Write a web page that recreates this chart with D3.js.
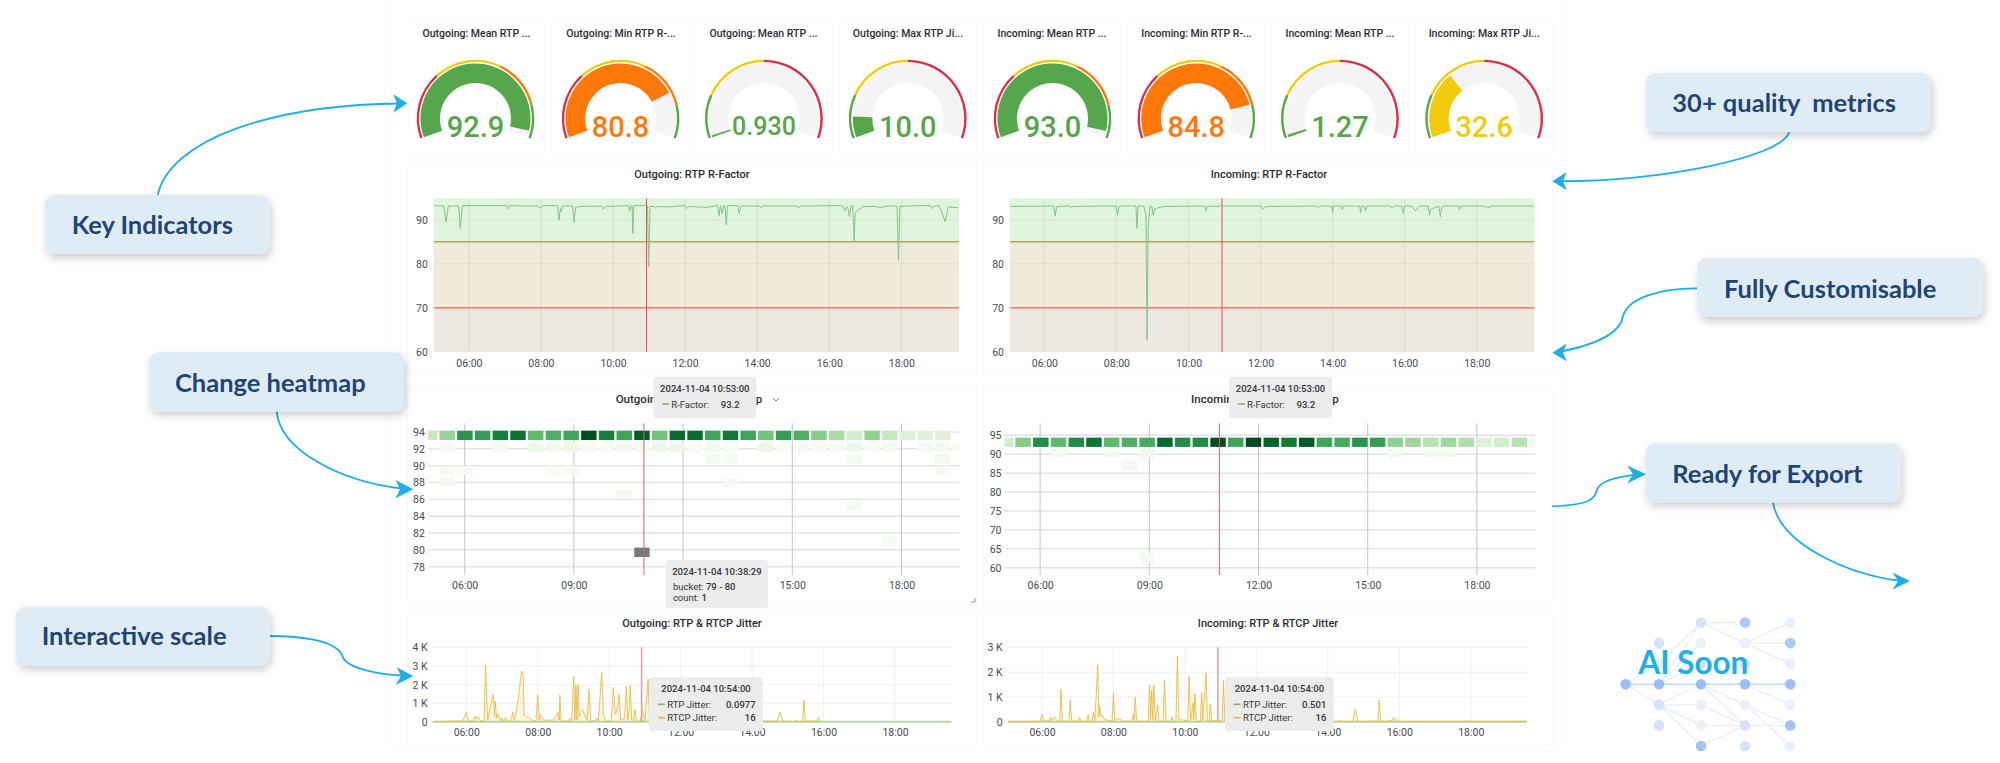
<!DOCTYPE html>
<html><head><meta charset="utf-8">
<script src="https://cdn.jsdelivr.net/npm/d3@7/dist/d3.min.js"></script>
<style>
html,body{margin:0;padding:0;background:#fff;overflow:hidden}
svg{display:block}
text{font-family:Roboto,sans-serif}
.ann{font-family:Lato,sans-serif;font-weight:700;white-space:pre}
</style></head><body><svg id="c" width="2000" height="763"></svg>
<script>
// ---------- DATA ----------
const gaugeTitles=["Outgoing: Mean RTP ...","Outgoing: Min RTP R-...","Outgoing: Mean RTP ...","Outgoing: Max RTP Ji...","Incoming: Mean RTP ...","Incoming: Min RTP R-...","Incoming: Mean RTP ...","Incoming: Max RTP Ji..."];
const gaugeValues=[92.9,80.8,0.93,10.0,93.0,84.8,1.27,32.6];
const gaugeLabels=["92.9","80.8","0.930","10.0","93.0","84.8","1.27","32.6"];
const gaugeMins=[30,30,0,0,30,30,0,0];
const gaugeMaxs=[95,95,100,100,95,95,100,100];
const gaugeSteps=[[50,70,85],[50,70,85],[20,50],[20,50],[50,70,85],[50,70,85],[20,50],[20,50]];
const rfStepColors=["#e02f44","#f2cc0c","#ff780a","#56a64b"];
const jitStepColors=["#56a64b","#f2cc0c","#e02f44"];

const hours2=[6,8,10,12,14,16,18];
const hours3=[6,9,12,15,18];
const rfTicks=[60,70,80,90];
const outHeatTicks=[78,80,82,84,86,88,90,92,94];
const inHeatTicks=[60,65,70,75,80,85,90,95];
const outJitTicks=[0,1,2,3,4];
const inJitTicks=[0,1,2,3];

const outRFactor=[[5.03,93.2],[5.3,93.1],[5.37,89.5],[5.43,93.1],[5.72,93.1],[5.76,88],[5.82,93.2],[6.5,93.2],[7.06,93.2],[7.1,92.4],[7.14,93.2],[7.5,93.1],[7.92,93.1],[7.97,92.6],[8.02,92.9],[8.06,93.2],[8.46,93.2],[8.5,89.9],[8.54,92.5],[8.56,91.8],[8.6,93.1],[8.88,93.1],[8.92,89.4],[8.96,92.8],[9.1,93],[9.68,93.1],[9.73,92.4],[9.78,93],[10.42,93.2],[10.46,92],[10.5,93.2],[10.53,93.2],[10.55,86.9],[10.58,93.2],[10.85,93.2],[10.9,93.3],[10.96,93.1],[10.99,79.3],[11.03,93],[11.15,93],[11.19,92.5],[11.23,93],[11.6,92.9],[11.8,93.1],[12,93.2],[12.04,92.5],[12.1,93],[12.6,92.8],[12.9,93.2],[12.94,90.8],[12.98,93.2],[13.03,91.3],[13.07,93.2],[13.11,93.1],[13.14,88.8],[13.18,93.2],[13.46,93.2],[13.5,91.4],[13.55,93.1],[14.06,93.1],[14.1,92.6],[14.14,93.1],[15.1,93.1],[15.15,92.6],[15.2,93.1],[16.3,93.2],[16.38,93],[16.43,92],[16.48,93],[16.52,92.5],[16.56,90.7],[16.6,93.2],[16.65,93.2],[16.69,85.2],[16.72,91.5],[16.77,92],[16.95,93],[17.3,93],[17.4,92.7],[17.6,93.1],[17.88,93.1],[17.92,80.8],[17.96,93],[18.5,93.2],[18.82,93.2],[18.86,92.5],[18.9,93],[19.05,93.2],[19.22,89.5],[19.3,92.9],[19.58,92.7]];
const inRFactor=[[5.05,93],[6.26,93.1],[6.3,90.8],[6.34,93],[6.7,93.1],[6.74,92.8],[6.78,93],[7.5,93.1],[7.98,93.1],[8.03,91],[8.07,93.1],[8.5,93.1],[8.54,93.1],[8.57,88],[8.6,93.1],[8.76,93.1],[8.82,91],[8.85,62.6],[8.88,88],[8.93,93],[8.98,93.1],[9.02,91],[9.07,92.5],[9.12,92.6],[9.3,93],[10.44,93.1],[10.48,92],[10.52,93.1],[10.85,93],[10.9,93.5],[10.95,93.1],[12,93.1],[12.06,92.4],[12.14,93],[13.56,93.1],[13.6,92.7],[13.64,93.1],[13.97,93.1],[14,91.6],[14.03,93.1],[14.24,93.1],[14.27,92.3],[14.3,93.1],[14.75,93.1],[14.78,91.6],[14.81,93.1],[14.88,93.1],[14.91,92],[14.96,93.1],[15.62,93.1],[15.65,92.6],[15.7,93.1],[15.92,93.1],[15.96,91.4],[16,93.1],[16.2,93.1],[16.29,92],[16.42,93.1],[16.65,93.1],[16.69,91],[16.72,92.3],[16.95,93.1],[16.99,90.7],[17.03,92.8],[17.08,93.1],[17.49,93.1],[17.52,92.3],[17.55,93.1],[18.2,93.1],[18.3,92.7],[18.42,93.1],[19.6,93.1]];
const crossHour=10.93;
const bands=[[85,94.86,"#e0f5de"],[70,85,"#f0ead8"],[60,70,"#eee8e2"]];
const rfLines=[[85,"#a9a958"],[70,"#e8806c"]];

// heatmap: top row counts, level 0..1, index -1 is the clipped bin
const outTopLevels=[.25,.4,.72,.68,.8,.85,.55,.6,.65,.97,.8,.65,.93,.5,.87,.87,.65,.82,.65,.5,.68,.6,.45,.35,.2,.42,.25,.15,.15,.15];
const inTopLevels=[.22,.45,.75,.55,.75,.85,.55,.6,.62,.88,.75,.75,.97,.65,.98,.9,.82,.93,.65,.62,.72,.68,.42,.38,.3,.38,.33,.15,.2,.3,.04];
// [bin, bucket top value, level]
const outLowCells=[[0,92.77,.02],[3,92.77,.02],[5,92.77,.07],[6,92.77,.03],[7,92.77,.07],[8,92.77,.01],[9,92.77,.01],[10,92.77,.03],[11,92.77,.01],[12,92.77,.07],[13,92.77,.07],[14,92.77,.01],[15,92.77,.03],[16,92.77,.01],[18,92.77,.07],[19,92.77,.01],[20,92.77,.02],[21,92.77,.01],[22,92.77,.02],[23,92.77,.07],[24,92.77,.01],[25,92.77,.03],[27,92.77,.02],[28,92.77,.03],[29,92.77,.01],
[15,91.38,.03],[16,91.38,.02],[23,91.38,.03],[28,91.38,.03],
[0,90,.03],[1,90,.02],[6,90,.02],[7,90,.02],[28,90,.03],
[0,88.6,.03],[16,88.6,.02],[10,87.2,.03],[23,85.8,.03],[25,81.66,.02]];
const outMarked=[[11,80.27]];
const inLowCells=[[2,91.32,.02],[5,91.32,.02],[7,91.32,.05],[21,91.32,.02],[23,91.32,.02],[24,91.32,.02],[6,88.26,.03],[7,63.78,.03]];

const outRtcp=[[5.06,.02],[5.9,.06],[6,.53],[6.06,.05],[6.2,.05],[6.24,.32],[6.28,.15],[6.32,.3],[6.38,.1],[6.46,.03],[6.5,.03],[6.54,3.05],[6.6,.1],[6.72,1.2],[6.76,1.48],[6.79,.3],[6.81,1.12],[6.85,.2],[6.9,.45],[6.96,.05],[7,.2],[7.05,.05],[7.1,.25],[7.15,.05],[7.25,.05],[7.3,.55],[7.35,.05],[7.45,1.2],[7.55,2.73],[7.59,2.6],[7.62,.35],[7.72,.25],[7.9,.05],[7.95,.05],[8,1.45],[8.04,.1],[8.07,.4],[8.15,.1],[8.45,.1],[8.57,.5],[8.6,.1],[8.62,1.45],[8.66,.05],[8.85,.05],[8.9,.2],[8.95,.05],[9.01,2.46],[9.04,.1],[9.07,1.98],[9.1,.1],[9.13,2],[9.16,.3],[9.25,.68],[9.38,.1],[9.44,1.75],[9.48,.1],[9.6,.05],[9.65,.2],[9.7,.05],[9.79,2.66],[9.84,.4],[9.9,.05],[10,.05],[10.06,.1],[10.12,1.84],[10.17,.4],[10.23,.77],[10.28,1.5],[10.32,.1],[10.43,.2],[10.48,1.9],[10.52,.1],[10.55,.4],[10.59,1.98],[10.63,.1],[10.68,.1],[10.72,.7],[10.76,.05],[10.87,.05],[10.93,.65],[11,.05],[11.09,2.3],[11.13,.05],[11.3,.2],[11.5,.05],[12,.15],[12.2,.05],[13.2,.2],[13.4,.05],[14.2,.15],[14.3,.05],[14.7,.05],[14.78,.53],[14.86,.05],[15.2,.02],[15.25,.1],[15.3,.02],[15.41,.02],[15.45,1.18],[15.49,.05],[15.7,.05],[15.75,.08],[15.8,.02],[15.85,.25],[15.88,.25],[15.92,.01]];
const inRtcp=[[5.05,.03],[5.95,.03],[6,.32],[6.05,.05],[6.2,.05],[6.24,.19],[6.28,.05],[6.34,.21],[6.44,.03],[6.5,.03],[6.53,1.31],[6.57,.05],[6.75,.03],[6.79,.88],[6.83,.05],[7,.03],[7.05,.19],[7.09,.03],[7.25,.03],[7.29,.28],[7.33,.03],[7.4,.03],[7.44,.41],[7.48,.05],[7.56,2.29],[7.59,.2],[7.61,.68],[7.65,.25],[7.68,.28],[7.75,.1],[7.96,.03],[8,1.15],[8.04,.05],[8.1,.15],[8.3,.03],[8.52,.03],[8.56,.32],[8.58,.1],[8.61,.99],[8.65,.03],[8.97,.03],[9.01,1.49],[9.04,.1],[9.07,1.26],[9.1,.1],[9.13,1.49],[9.17,.05],[9.24,.68],[9.27,.03],[9.39,.03],[9.43,1.69],[9.47,.03],[9.6,.03],[9.63,.21],[9.68,.03],[9.75,.03],[9.79,2.66],[9.83,.1],[10.08,.05],[10.12,1.85],[10.16,.05],[10.23,.78],[10.25,.1],[10.28,1.15],[10.32,.03],[10.43,.03],[10.47,1.19],[10.5,.05],[10.59,1.98],[10.63,.05],[10.68,.03],[10.71,.71],[10.75,.03],[10.9,.08],[11.04,.03],[11.08,1.66],[11.12,.03],[11.4,.15],[11.6,.03],[14.3,.03],[14.35,.06],[14.4,.03],[14.7,.03],[14.77,.52],[14.84,.03],[15.22,.03],[15.26,.06],[15.3,.03],[15.4,.03],[15.44,.88],[15.48,.03],[15.65,.03],[15.7,.07],[15.78,.03],[15.84,.17],[15.88,.17],[15.92,.03],[19.57,.03]];
const outRtp=[[5.06,.01],[19.58,.01]];
const inRtp=[[5.05,.01],[19.57,.01]];

const boxes=[
 {t:"Key Indicators",x:45,y:195,w:224.3,tx:71.7,by:234},
 {t:"Change heatmap",x:149.3,y:352.3,w:254.7,tx:175,by:391.7},
 {t:"Interactive scale",x:16,y:606.7,w:253.3,tx:41.7,by:645},
 {t:"30+ quality  metrics",x:1646,y:73.1,w:285,tx:1672.3,by:112.3},
 {t:"Fully Customisable",x:1697.3,y:258,w:285,tx:1724,by:297.6},
 {t:"Ready for Export",x:1646,y:443.3,w:254.7,tx:1672.3,by:482.9}];
const arrows=[
 {d:"M157.7,195C170,140 270,105 400,103.5",h:"M407.3,103.3L393.3,94.3L397,103.3L393.3,112.7Z"},
 {d:"M276.7,411.3C280,450 340,482 405,489",h:"M413.3,489.3L395.7,480L400,489.3L395.7,498.3Z"},
 {d:"M270,636C300,636 335,640 342,655C345,668 375,674 405,676",h:"M413.3,676L396.7,667.3L401,676L395.7,685Z"},
 {d:"M1789.3,132.3C1780,158 1660,181 1560,181.2",h:"M1552.3,181.2L1566.7,171.9L1563,181.2L1566.7,190.2Z"},
 {d:"M1697.3,288.3C1660,288 1628,298 1623,316C1620,336 1590,346 1558,352",h:"M1552.3,352.7L1566.7,343.4L1563,352.5L1566.7,361.3Z"},
 {d:"M1552,506.3C1590,505 1595,499 1597,490C1600,480 1620,476 1640,474.3",h:"M1646,474.3L1627.3,465.6L1633,474.3L1627.3,483.6Z"},
 {d:"M1773,502.5C1780,545 1850,575 1902,581",h:"M1910,581L1892.7,572.4L1898,581L1892.7,589.6Z"}];

// AI network: [column, row, colour]; rows count from the top of the picture
const netNodes=[[0,3,"#9dbdf9"],[1,1,"#d4e2fb"],[1,2,"#eaf1fc"],[1,3,"#9dbdf9"],[1,4,"#d4e2fb"],[1,5,"#d4e2fb"],
[2,0,"#d4e2fb"],[2,1,"#e8f0fb"],[2,2,"#d4e2fb"],[2,3,"#9dbdf9"],[2,4,"#e8f0fb"],[2,5,"#e8f0fb"],[2,6,"#a5c2f8"],
[3,0,"#a8ccf8"],[3,1,"#e8f0fb"],[3,2,"#d4e2fb"],[3,3,"#9dbdf9"],[3,4,"#e8f0fb"],[3,5,"#d4e2fb"],[3,6,"#d4e2fb"],
[4,0,"#e8f0fb"],[4,1,"#a8ccf8"],[4,2,"#e8f0fb"],[4,3,"#9dbdf9"],[4,4,"#e8f0fb"],[4,5,"#a5c2f8"],[4,6,"#e8f0fb"]];
const netEdges=[[0,3,1,2],[0,3,1,3],[0,3,1,4],[1,3,2,0],[1,3,2,1],[1,3,2,2],[1,3,2,3],[1,2,2,0],[1,4,2,3],[1,4,2,4],[1,4,2,5],[1,4,2,6],
[2,0,3,0],[2,0,3,1],[2,3,3,3],[2,3,3,4],[2,3,3,5],[2,4,3,5],[2,5,3,5],[2,6,3,5],[3,1,4,0],[3,1,4,1],[3,1,4,2],[3,3,4,3],[3,3,4,4],[3,4,4,5],[3,4,4,6],[3,5,4,5]];

// ---------- DRAW ----------
const svg=d3.select("#c");
const defs=svg.append("defs");
const sh=defs.append("filter").attr("id","sh").attr("x","-20%").attr("y","-30%").attr("width","140%").attr("height","170%");
sh.append("feDropShadow").attr("dx",2).attr("dy",4).attr("stdDeviation",4).attr("flood-color","#000").attr("flood-opacity",.2);
const ink="#464c54",titleInk="#2a2d33";
const rad=Math.PI/180;

svg.append("rect").attr("x",385).attr("y",-10).attr("width",1180).attr("height",762).attr("rx",22).attr("fill","#fff").attr("stroke","#fafafa");

function card(x,y,w,h){svg.append("rect").attr("x",x).attr("y",y).attr("width",w).attr("height",h).attr("rx",2).attr("fill","#fff").attr("stroke","#f9f9f9");}
function title(txt,cx,y){svg.append("text").attr("x",cx).attr("y",y).attr("text-anchor","middle").attr("dominant-baseline","central").attr("font-size",11).attr("font-weight",500).attr("fill",titleInk).text(txt);}
function axes(g,x,y,xt,yt,yh,xpad,ypad,yfmt){
 g.append("g").attr("transform",`translate(0,${yh})`).call(d3.axisBottom(x).tickValues(xt).tickSize(0).tickPadding(xpad).tickFormat(d=>String(d).padStart(2,"0")+":00"))
  .call(s=>{s.select(".domain").remove();s.selectAll("text").attr("font-size",10.5).attr("fill",ink).attr("font-family","Roboto,sans-serif");});
 g.append("g").attr("transform",`translate(${x.range()[0]},0)`).call(d3.axisLeft(y).tickValues(yt).tickSize(0).tickPadding(ypad).tickFormat(yfmt||(d=>d)))
  .call(s=>{s.select(".domain").remove();s.selectAll("text").attr("font-size",10.5).attr("fill",ink).attr("font-family","Roboto,sans-serif");});
}

// gauges
const gaugePanels=[[408,137],[552,138],[695,137],[839,138],[983,138],[1128,137],[1271,138],[1415.5,137.5]];
const gaugeCx=[475.5,620.6,764,907.8,1052.5,1196.3,1340,1484.2];
const gaugeCy=118.5;
gaugeValues.forEach((v,i)=>{
 const p=gaugePanels[i];card(p[0],20.7,p[1],134.6);
 svg.append("text").attr("x",p[0]+p[1]/2).attr("y",33.3).attr("text-anchor","middle").attr("dominant-baseline","central").attr("font-size",10.5).attr("font-weight",500).attr("fill",titleInk).text(gaugeTitles[i]);
 const a=d3.scaleLinear().domain([gaugeMins[i],gaugeMaxs[i]]).range([-110*rad,110*rad]);
 const g=svg.append("g").attr("transform",`translate(${gaugeCx[i]},${gaugeCy})`);
 const stepCols=gaugeSteps[i][2]?rfStepColors:jitStepColors;
 const edges=[gaugeMins[i],...gaugeSteps[i],gaugeMaxs[i]];
 const vc=stepCols[d3.bisectRight(gaugeSteps[i],v)];
 const main=d3.arc().innerRadius(35.5).outerRadius(55);
 g.append("path").attr("d",main({startAngle:a(gaugeMins[i]),endAngle:a(gaugeMaxs[i])})).attr("fill","#f4f4f4");
 g.append("path").attr("d",main({startAngle:a(gaugeMins[i]),endAngle:a(v)})).attr("fill",vc);
 const thr=d3.arc().innerRadius(56.4).outerRadius(58.8);
 stepCols.forEach((c,k)=>g.append("path").attr("d",thr({startAngle:a(edges[k]),endAngle:a(edges[k+1])})).attr("fill",c));
 const small=gaugeLabels[i].length>4;
 svg.append("text").attr("x",gaugeCx[i]).attr("y",small?135:137.3).attr("text-anchor","middle").attr("font-size",small?25:29).attr("font-weight",500).attr("fill",vc).text(gaugeLabels[i]);
});

// R-factor charts
function rfChart(cfg){
 card(cfg.cx,161.7,cfg.cw,213);
 title(cfg.title,cfg.tx,174);
 const x=d3.scaleLinear().domain(cfg.dom).range(cfg.rng);
 const y=d3.scaleLinear().domain([60,94.86]).range([351.7,198.3]);
 const g=svg.append("g");
 g.selectAll(".b").data(bands).join("rect").attr("x",x.range()[0]).attr("width",x.range()[1]-x.range()[0]).attr("y",d=>y(d[1])).attr("height",d=>y(d[0])-y(d[1])).attr("fill",d=>d[2]);
 g.selectAll(".gv").data(hours2).join("line").attr("x1",x).attr("x2",x).attr("y1",198.3).attr("y2",351.7).attr("stroke","#000").attr("stroke-opacity",.07);
 g.selectAll(".gh").data(rfTicks).join("line").attr("x1",x.range()[0]).attr("x2",x.range()[1]).attr("y1",y).attr("y2",y).attr("stroke","#000").attr("stroke-opacity",.05);
 g.selectAll(".l").data(rfLines).join("line").attr("x1",x.range()[0]).attr("x2",x.range()[1]).attr("y1",d=>y(d[0])).attr("y2",d=>y(d[0])).attr("stroke",d=>d[1]).attr("stroke-width",1.5);
 g.append("path").attr("d",d3.line().x(d=>x(d[0])).y(d=>y(d[1]))(cfg.data)).attr("fill","none").attr("stroke","#86c386").attr("stroke-width",1);
 g.append("line").attr("x1",x(crossHour)).attr("x2",x(crossHour)).attr("y1",198.3).attr("y2",351.7).attr("stroke","#e2504f").attr("stroke-width",1);
 axes(g,x,y,hours2,rfTicks,351.7,7.8,cfg.ypad);
}
rfChart({cx:407.5,cw:569.5,title:"Outgoing: RTP R-Factor",tx:692,dom:[5.03,19.6],rng:[433.9,959],data:outRFactor,ypad:6});
rfChart({cx:983,cw:569.8,title:"Incoming: RTP R-Factor",tx:1269,dom:[5.046,19.6],rng:[1010,1534.4],data:inRFactor,ypad:6});

// heatmaps
function heatChart(cfg){
 card(cfg.cx,386.7,cfg.cw,218.3);
 const x=d3.scaleLinear().domain(cfg.dom).range(cfg.rng);
 const y=d3.scaleLinear().domain(cfg.ydom).range(cfg.yrng);
 const g=svg.append("g");
 const id="clip"+cfg.id;
 defs.append("clipPath").attr("id",id).append("rect").attr("x",x.range()[0]).attr("y",420).attr("width",x.range()[1]-x.range()[0]).attr("height",160);
 g.selectAll(".gh").data(cfg.yt).join("line").attr("x1",x.range()[0]).attr("x2",x.range()[1]).attr("y1",y).attr("y2",y).attr("stroke","#e3e3e3").attr("stroke-width",1.5);
 g.selectAll(".gv").data(hours3).join("line").attr("x1",x).attr("x2",x).attr("y1",423.3).attr("y2",575).attr("stroke","#c4c4c4");
 const cells=g.append("g").attr("clip-path",`url(#${id})`);
 const binX=i=>x(cfg.bin0+i*cfg.step);
 const w=x(cfg.step)-x(0)-2.3;
 const col=t=>d3.interpolateGreens(t);
 const h=y(cfg.top-cfg.pitch)-y(cfg.top)-2.3;
 cells.selectAll(".t").data(cfg.levels).join("rect").attr("x",(d,i)=>binX(i-1)).attr("y",y(cfg.top)).attr("width",w).attr("height",h).attr("fill",col);
 cells.selectAll(".o").data(cfg.low).join("rect").attr("x",d=>binX(d[0])).attr("y",d=>y(d[1])).attr("width",w).attr("height",h).attr("fill",d=>col(d[2]));
 cells.selectAll(".m").data(cfg.marked||[]).join("rect").attr("x",d=>binX(d[0])).attr("y",d=>y(d[1])).attr("width",w).attr("height",h).attr("fill","#7a7a7a");
 g.append("line").attr("x1",cfg.crossX).attr("x2",cfg.crossX).attr("y1",423.3).attr("y2",575).attr("stroke","#d9607e").attr("stroke-width",1);
 axes(g,x,y,hours3,cfg.yt,575,6.9,cfg.ypad);
}
heatChart({id:"a",cx:407.5,cw:569.5,dom:[5,19.6],rng:[428.3,959.7],ydom:[78,94],yrng:[566.7,432],yt:outHeatTicks,bin0:5.308,step:.4864,top:94.16,pitch:1.389,levels:outTopLevels,low:outLowCells,marked:outMarked,crossX:643.9,ypad:3.5});
heatChart({id:"b",cx:983,cw:569.8,dom:[5.02,19.61],rng:[1004.5,1535.5],ydom:[60,95],yrng:[567.7,435.3],yt:inHeatTicks,bin0:5.319,step:.487,top:94.38,pitch:3.06,levels:inTopLevels,low:inLowCells,crossX:1219.4,ypad:3});
svg.append("text").attr("x",615.7).attr("y",399).attr("dominant-baseline","central").attr("font-size",11.5).attr("font-weight",500).attr("fill",titleInk).text("Outgoing: R-Factor Heatmap");
svg.append("path").attr("d","M773,398L776,401L779,398").attr("fill","none").attr("stroke","#6b6f76").attr("stroke-width",.9);
svg.append("text").attr("x",1191).attr("y",399).attr("dominant-baseline","central").attr("font-size",11.5).attr("font-weight",500).attr("fill",titleInk).text("Incoming: R-Factor Heatmap");
svg.append("path").attr("d","M971,602L975,602L975,598").attr("fill","none").attr("stroke","#9a9a9a");

// jitter
function jitChart(cfg){
 card(cfg.cx,611.7,cfg.cw,133.3);
 title(cfg.title,cfg.tx,623);
 const x=d3.scaleLinear().domain(cfg.dom).range(cfg.rng);
 const y=d3.scaleLinear().domain([0,cfg.yt[cfg.yt.length-1]]).range([722,647.3]);
 const g=svg.append("g");
 g.selectAll(".gv").data(hours2).join("line").attr("x1",x).attr("x2",x).attr("y1",647.3).attr("y2",722).attr("stroke","#efefef");
 g.selectAll(".gh").data(cfg.yt).join("line").attr("x1",x.range()[0]).attr("x2",x.range()[1]).attr("y1",y).attr("y2",y).attr("stroke","#efefef");
 g.append("path").attr("d",d3.line().x(d=>x(d[0])).y(d=>y(d[1]))(cfg.rtp)).attr("fill","none").attr("stroke","#b8d9a8").attr("stroke-width",2);
 g.append("path").attr("d",d3.area().x(d=>x(d[0])).y0(y(0)).y1(d=>y(d[1]))(cfg.rtcp)).attr("fill","#eab839").attr("fill-opacity",.12);
 g.append("path").attr("d",d3.line().x(d=>x(d[0])).y(d=>y(d[1]))(cfg.rtcp)).attr("fill","none").attr("stroke","#eab839").attr("stroke-width",1).attr("stroke-opacity",.85);
 g.append("line").attr("x1",cfg.crossX).attr("x2",cfg.crossX).attr("y1",647.3).attr("y2",722).attr("stroke","#e89a9a").attr("stroke-width",1.5);
 axes(g,x,y,hours2,cfg.yt,722,6.5,cfg.ypad,d=>d===0?"0":d+" K");
}
jitChart({cx:407.5,cw:569.5,title:"Outgoing: RTP & RTCP Jitter",tx:692,dom:[5.06,19.58],rng:[432.7,951.4],rtcp:outRtcp,rtp:outRtp,yt:outJitTicks,crossX:641.6,ypad:5});
jitChart({cx:983,cw:569.8,title:"Incoming: RTP & RTCP Jitter",tx:1268,dom:[5.054,19.57],rng:[1008.2,1526.8],rtcp:inRtcp,rtp:inRtp,yt:inJitTicks,crossX:1217.9,ypad:5.5});

// tooltips
function tip(x,y,w,h){svg.append("rect").attr("x",x).attr("y",y).attr("width",w).attr("height",h).attr("rx",3.5).attr("fill","#ececec");}
function tt(txt,x,y,o={}){svg.append("text").attr("x",x).attr("y",y).attr("dominant-baseline","central").attr("text-anchor",o.a||"start").attr("font-size",o.s||9.5).attr("font-weight",o.w||400).attr("fill","#33363b").text(txt);}
function rTip(x0){
 tip(x0,376.7,103,41.6);
 tt("2024-11-04 10:53:00",x0+51.5,388.7,{a:"middle",w:500});
 svg.append("rect").attr("x",x0+8.8).attr("y",403.3).attr("width",7.2).attr("height",1.5).attr("fill","#7eb26d");
 tt("R-Factor:",x0+18,404);
 tt("93.2",x0+67.5,404,{w:500});
}
rTip(653.3);rTip(1229);
tip(665.7,560,102.3,48);
tt("2024-11-04 10:38:29",716.9,571.7,{a:"middle",w:500});
function pair(a,b,x,y){const t=svg.append("text").attr("x",x).attr("y",y).attr("dominant-baseline","central").attr("font-size",9.5).attr("fill","#33363b");t.append("tspan").text(a+" ");t.append("tspan").attr("font-weight",500).text(b);}
pair("bucket:","79 - 80",672.9,586);
pair("count:","1",672.9,596.7);
function jTip(x0,w,sx,lx,vr,val){
 tip(x0,677.3,w,53.7);
 tt("2024-11-04 10:54:00",x0+w/2,688.7,{a:"middle",w:500});
 [["RTP Jitter:",val,"#7eb26d",704.3],["RTCP Jitter:","16","#eab839",717.7]].forEach(r=>{
  svg.append("rect").attr("x",sx).attr("y",r[3]-.8).attr("width",7).attr("height",1.6).attr("fill",r[2]);
  tt(r[0],lx,r[3]);tt(r[1],vr,r[3],{a:"end",w:500});
 });
}
jTip(649,114,657.8,667.2,755.6,"0.0977");
jTip(1225,108.8,1233.5,1243,1326.3,"0.501");

// AI network
const nxVal=[1625.7,1659,1701,1745,1790.3];
const ny=d3.scaleLinear().domain([0,6]).range([622.5,746]);
const net=svg.append("g");
net.selectAll("line").data(netEdges).join("line").attr("x1",d=>nxVal[d[0]]).attr("y1",d=>ny(d[1])).attr("x2",d=>nxVal[d[2]]).attr("y2",d=>ny(d[3])).attr("stroke",d=>d[1]===3&&d[3]===3?"#c3d7fb":"#e6eefb").attr("stroke-width",1.3);
net.selectAll("circle").data(netNodes).join("circle").attr("cx",d=>nxVal[d[0]]).attr("cy",d=>ny(d[1])).attr("r",5.3).attr("fill",d=>d[2]);
svg.append("text").attr("class","ann").attr("x",1638.3).attr("y",674).attr("font-size",31.5).attr("fill","#1eaee8").text("AI Soon");

// annotations
arrows.forEach(a=>{
 svg.append("path").attr("d",a.d).attr("fill","none").attr("stroke","#1eaee8").attr("stroke-width",1.8);
 svg.append("path").attr("d",a.h).attr("fill","#1eaee8");
});
boxes.forEach(b=>{
 svg.append("rect").attr("x",b.x).attr("y",b.y).attr("width",b.w).attr("height",59).attr("rx",9).attr("fill","#dfecf6").attr("filter","url(#sh)");
 svg.append("text").attr("class","ann").attr("x",b.tx).attr("y",b.by).attr("font-size",25.5).attr("fill","#1f4577").attr("xml:space","preserve").text(b.t);
});
</script></body></html>
